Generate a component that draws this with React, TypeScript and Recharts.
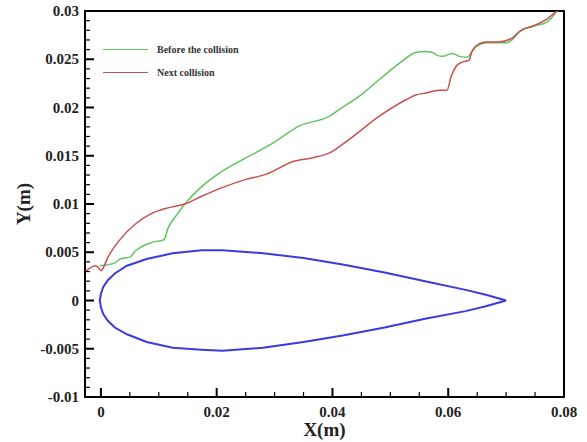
import { LineChart, Line, XAxis, YAxis, ReferenceArea } from "recharts";

// airfoil contour (upper + lower surface), leading edge -> trailing edge
const foilX = [-0.0002, 0.0, 0.0004, 0.0012, 0.0024, 0.0045, 0.0079, 0.0124, 0.0174, 0.021, 0.028, 0.035, 0.042, 0.049, 0.056, 0.063, 0.0665, 0.07];
const foilUpper = [0, 0.0007, 0.0014, 0.0021, 0.0028, 0.0036, 0.0043, 0.0049, 0.0052, 0.0052, 0.0049, 0.0044, 0.0037, 0.0029, 0.002, 0.0011, 0.0006, 0];
const foilLower = [0, -0.0007, -0.0014, -0.0021, -0.0028, -0.0035, -0.0043, -0.0049, -0.0051, -0.0052, -0.0049, -0.0043, -0.0036, -0.0028, -0.0019, -0.0011, -0.0006, 0];

const beforeX = [-0.0002, 0.0024, 0.0033, 0.005, 0.0059, 0.0087, 0.0109, 0.0116, 0.013, 0.0145, 0.0174, 0.0202, 0.0248, 0.0297, 0.0343, 0.0395, 0.0412, 0.0447, 0.0481, 0.0516, 0.0544, 0.0559, 0.0573, 0.0581, 0.059, 0.0607, 0.0619, 0.0633, 0.064, 0.0648, 0.0666, 0.07, 0.071, 0.0722, 0.0745, 0.0769, 0.0784];
const beforeY = [0.0036, 0.0039, 0.0043, 0.0045, 0.0051, 0.006, 0.0063, 0.0075, 0.0088, 0.01, 0.0118, 0.0131, 0.0147, 0.0163, 0.0181, 0.0191, 0.0198, 0.0212, 0.0229, 0.0246, 0.0257, 0.0258, 0.0257, 0.0254, 0.0253, 0.0256, 0.0253, 0.0252, 0.0257, 0.0263, 0.0267, 0.0267, 0.027, 0.0278, 0.0284, 0.0288, 0.0297];

const nextX = [-0.0027, -0.0018, -0.001, -0.0004, 0, 0.0013, 0.003, 0.0059, 0.0087, 0.0116, 0.0145, 0.0174, 0.0214, 0.0248, 0.0286, 0.0332, 0.0366, 0.0395, 0.0429, 0.0481, 0.0527, 0.0544, 0.0562, 0.0584, 0.0598, 0.0605, 0.0614, 0.0624, 0.0636, 0.0641, 0.0653, 0.0666, 0.0688, 0.071, 0.0728, 0.0745, 0.0769, 0.0784, 0.0792];
const nextY = [0.003, 0.0034, 0.0036, 0.0034, 0.0031, 0.0046, 0.0061, 0.0079, 0.009, 0.0096, 0.01, 0.0108, 0.0118, 0.0125, 0.0131, 0.0144, 0.0148, 0.0153, 0.0167, 0.0191, 0.0208, 0.0213, 0.0215, 0.0218, 0.0218, 0.0232, 0.0243, 0.0247, 0.0249, 0.0258, 0.0266, 0.0268, 0.0268, 0.0272, 0.0281, 0.0284, 0.0291, 0.0298, 0.0301];

const xMajor = [0, 0.02, 0.04, 0.06, 0.08];
const xMinorStep = 0.005;
const yMajor = [-0.01, -0.005, 0, 0.005, 0.01, 0.015, 0.02, 0.025, 0.03];
const yMinorStep = 0.001;

const seriesNames = ["Before the collision", "Next collision"];
const seriesColors = ["#5fc35f", "#c85050"];

const X_MIN = -0.00275;
const X_MAX = 0.08;
const Y_MIN = -0.01;
const Y_MAX = 0.03;

const FONT = "'Liberation Serif', 'Times New Roman', serif";

function steps(from: number, to: number, step: number): number[] {
  const out: number[] = [];
  const n = Math.round((to - from) / step);
  for (let i = 0; i <= n; i++) out.push(parseFloat((from + i * step).toFixed(6)));
  return out;
}

const xTicks = steps(0, 0.08, xMinorStep);
const yTicks = steps(-0.01, 0.03, yMinorStep);

const isMajor = (v: number, majors: number[]) => majors.some((m) => Math.abs(m - v) < 1e-9);
const fmt = (v: number) => String(parseFloat(v.toFixed(4)));

const pts = (xs: number[], ys: number[]) => xs.map((x, i) => ({ x, y: ys[i] }));
const foilData = [
  ...pts(foilX, foilUpper).reverse(),
  ...pts(foilX, foilLower).slice(1),
];
const beforeData = pts(beforeX, beforeY);
const nextData = pts(nextX, nextY);

function XTick(props: any) {
  const { x, y, payload } = props;
  const major = isMajor(payload.value, xMajor);
  return (
    <g>
      <line x1={x} x2={x} y1={y} y2={y - (major ? 9 : 5)} stroke="#000" strokeWidth={major ? 2 : 1.2} />
      {major && (
        <text x={x} y={y + 20} textAnchor="middle" fontFamily={FONT} fontWeight="bold" fontSize={15} fill="#222">
          {fmt(payload.value)}
        </text>
      )}
    </g>
  );
}

function YTick(props: any) {
  const { x, y, payload } = props;
  const major = isMajor(payload.value, yMajor);
  return (
    <g>
      <line x1={x} x2={x + (major ? 9 : 5)} y1={y} y2={y} stroke="#000" strokeWidth={major ? 2 : 1.2} />
      {major && (
        <text x={x - 6} y={y + 5} textAnchor="end" fontFamily={FONT} fontWeight="bold" fontSize={15} fill="#222">
          {fmt(payload.value)}
        </text>
      )}
    </g>
  );
}

function YLabel(props: any) {
  const { viewBox } = props;
  const cx = 23;
  const cy = viewBox.y + viewBox.height / 2;
  return (
    <text
      x={cx}
      y={cy}
      transform={`rotate(-90 ${cx} ${cy})`}
      textAnchor="middle"
      dominantBaseline="central"
      fontFamily={FONT}
      fontWeight="bold"
      fontSize={19}
      fill="#222"
    >
      Y(m)
    </text>
  );
}

function LegendBox() {
  return (
    <div style={{ position: "absolute", left: 103, top: 38 }}>
      {seriesNames.map((name, i) => (
        <div key={name} style={{ display: "flex", alignItems: "center", height: 23 }}>
          <span style={{ display: "inline-block", width: 45, height: 0, borderTop: `1.5px solid ${seriesColors[i]}` }} />
          <span style={{ marginLeft: 9, fontFamily: FONT, fontWeight: "bold", fontSize: 10, color: "#333", whiteSpace: "nowrap" }}>
            {name}
          </span>
        </div>
      ))}
    </div>
  );
}

export default function App() {
  return (
    <div style={{ position: "absolute", left: 0, top: 0, width: 587, height: 442, background: "#fff" }}>
      <LineChart width={587} height={442} margin={{ top: 11, right: 23, left: 0, bottom: 0 }}>
        <XAxis
          dataKey="x"
          type="number"
          domain={[X_MIN, X_MAX]}
          allowDataOverflow
          ticks={xTicks}
          interval={0}
          tick={<XTick />}
          tickSize={0}
          tickMargin={0}
          tickLine={false}
          axisLine={false}
          height={45}
          label={{
            value: "X(m)",
            position: "insideBottom",
            offset: 6,
            style: { fontFamily: FONT, fontWeight: "bold", fontSize: 19, fill: "#222" },
          }}
        />
        <YAxis
          dataKey="y"
          type="number"
          domain={[Y_MIN, Y_MAX]}
          allowDataOverflow
          ticks={yTicks}
          interval={0}
          tick={<YTick />}
          tickSize={0}
          tickMargin={0}
          tickLine={false}
          axisLine={false}
          width={85}
          label={<YLabel />}
        />
        <ReferenceArea x1={X_MIN} x2={X_MAX} y1={Y_MIN} y2={Y_MAX} fill="none" stroke="#000" strokeWidth={2} strokeOpacity={1} />
        <Line
          data={foilData}
          dataKey="y"
          name="Airfoil"
          type="linear"
          stroke="#3a3ae0"
          strokeWidth={2}
          dot={false}
          legendType="none"
          isAnimationActive={false}
        />
        <Line
          data={beforeData}
          dataKey="y"
          name={seriesNames[0]}
          type="monotoneX"
          stroke={seriesColors[0]}
          strokeWidth={1.5}
          dot={false}
          isAnimationActive={false}
        />
        <Line
          data={nextData}
          dataKey="y"
          name={seriesNames[1]}
          type="monotoneX"
          stroke={seriesColors[1]}
          strokeWidth={1.5}
          dot={false}
          isAnimationActive={false}
        />
      </LineChart>
      <LegendBox />
    </div>
  );
}
